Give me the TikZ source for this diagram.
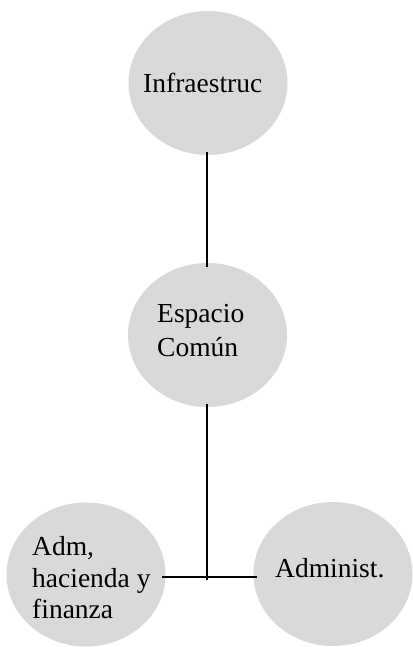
\documentclass[tikz,border=0pt]{standalone}
\usepackage{fontspec}
\setmainfont{Liberation Serif}
\usetikzlibrary{shapes.geometric}
\definecolor{bub}{RGB}{217,217,217}
\begin{document}
\begin{tikzpicture}[x=1pt,y=-1pt,
  bubble/.style={ellipse,fill=bub,draw=none,inner sep=0pt,minimum width=159pt,minimum height=144pt},
  lbl/.style={anchor=base west,inner sep=0pt,font=\fontsize{27.5}{32}\selectfont,align=left},
  conn/.style={line width=1.6pt,black}]
\useasboundingbox (0,0) rectangle (412,647);
\node[bubble] (top) at (208,83) {};
\node[bubble] (mid) at (207.5,335) {};
\node[bubble] (left) at (86,574.5) {};
\node[bubble] (right) at (333,574) {};
\node[lbl] (ttop) at (143,92.5) {Infraestruc};
\node[lbl] (tmid1) at (157,322) {Espacio};
\node[lbl] (tmid2) at (157,356) {Común};
\node[lbl] (tl1) at (32,555) {Adm,};
\node[lbl] (tl2) at (32,587) {hacienda y};
\node[lbl] (tl3) at (32,618) {finanza};
\node[lbl] (tr) at (275,577) {Administ.};
\coordinate (j) at (207,577);
\coordinate (jend) at (207,580);
\draw[conn] ([yshift=3pt]top.south -| j) -- ([yshift=-4pt]mid.north -| j);
\draw[conn] ([yshift=3pt]mid.south -| j) -- (jend);
\draw[conn] ([xshift=-4pt]left.east |- j) -- ([xshift=4pt]right.west |- j);
\end{tikzpicture}
\end{document}
